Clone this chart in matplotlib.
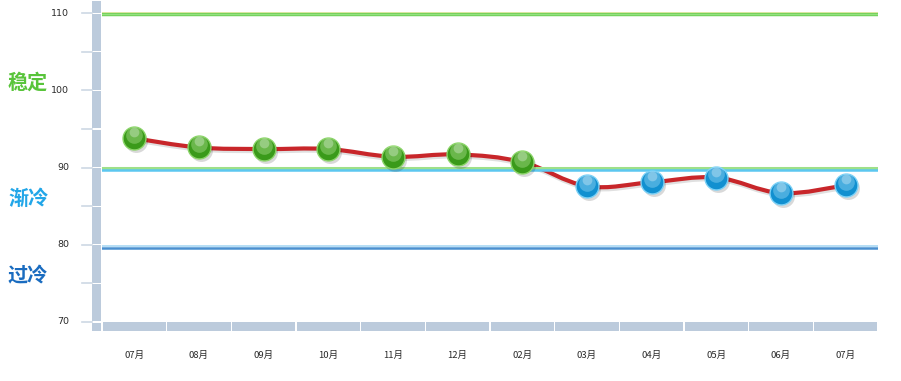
"""Monthly index line chart with status bands (稳定 / 渐冷 / 过冷)."""

import numpy as np
import matplotlib
matplotlib.use("Agg")
import matplotlib.pyplot as plt
from matplotlib.path import Path
from matplotlib.patches import PathPatch, Rectangle
from matplotlib.transforms import blended_transform_factory, offset_copy

plt.rcParams["font.family"] = ["Noto Sans CJK SC", "DejaVu Sans"]

# data
months = ["07月", "08月", "09月", "10月", "11月", "12月",
          "02月", "03月", "04月", "05月", "06月", "07月"]
values = [93.8, 92.6, 92.4, 92.4, 91.4, 91.7, 90.7, 87.6, 88.1, 88.7, 86.7, 87.7]
yticks = [70, 80, 90, 100, 110]
zones = ["稳定", "渐冷", "过冷"]
zone_y = [101.0, 86.0, 76.0]
threshold = 90

W, H = 901, 381
fig = plt.figure(figsize=(W / 100, H / 100), dpi=100)
ax = fig.add_axes([102 / W, (H - 322) / H, 776 / W, 322 / H])
n = len(months)
x = np.arange(n)
ax.set_xlim(-0.5, n - 0.5)
ax.set_ylim(70, 111.7)
ax.axis("off")

band = "#bccbdc"
fig_y = blended_transform_factory(fig.transFigure, ax.transData)
px = 1 / 7.72  # one pixel in data units

# y-axis band, split every 5 units
edges = list(range(70, 111, 5)) + [111.7]
for lo, hi in zip(edges[:-1], edges[1:]):
    ax.add_patch(Rectangle((92 / W, lo + px * 0.6), 9 / W, hi - lo - px * 1.2,
                           transform=fig_y, color=band, clip_on=False, lw=0))
ax.add_patch(Rectangle((92 / W, 70 - 9 * px), 9 / W, 9 * px - px * 0.6,
                       transform=fig_y, color=band, clip_on=False, lw=0))
for v in range(70, 111, 5):
    ax.plot([82 / W, 92 / W], [v, v], transform=fig_y, color="#cdd8e4",
            lw=1.2, clip_on=False)
for v in yticks:
    ax.text(69 / W, v, str(v), transform=fig_y, ha="right", va="center",
            fontsize=6.8, color="#2a2a2a", family="DejaVu Sans")

# x-axis band split per category
for i in range(n):
    ax.add_patch(Rectangle((i - 0.5 + 0.012, 70 - 9 * px), 0.976, 9 * px,
                           color=band, clip_on=False, lw=0))
    ax.text(i, 70 - 33 * px, months[i], ha="center", va="center",
            fontsize=6.8, color="#2a2a2a")

# reference lines
ax.axhline(110 + 0.6 * px, color="#fbe7a8", lw=1.2)
ax.axhline(110 - 1.2 * px, color="#74d35c", lw=2.5)
ax.axhline(110 - 0.7 * px, color="#a5e690", lw=0.8, alpha=0.7)
ax.axhline(90 - 0.5 * px, color="#9ee08a", lw=2.2)
ax.axhline(90 - 2.8 * px, color="#5cc7f0", lw=1.8)
ax.axhline(80 - 1.6 * px, color="#a8d8f4", lw=1.2)
ax.axhline(80 - 2.8 * px, color="#4a90d0", lw=1.8)

# zone labels
zone_colors = ["#58c43a", "#22a6e8", "#1a6cc0"]
for name, yy, c in zip(zones, zone_y, zone_colors):
    ax.text(8 / W, yy, name, transform=fig_y, ha="left", va="center",
            fontsize=14.5, fontweight="bold", color=c)

# smooth curve as Bezier path through the points
pts = np.column_stack([x, values])
verts = [tuple(pts[0])]
codes = [Path.MOVETO]
t = 0.18
for i in range(n - 1):
    p0 = pts[max(i - 1, 0)]
    p1 = pts[i]
    p2 = pts[i + 1]
    p3 = pts[min(i + 2, n - 1)]
    c1 = p1 + (p2 - p0) * t
    c2 = p2 - (p3 - p1) * t
    verts += [tuple(c1), tuple(c2), tuple(p2)]
    codes += [Path.CURVE4] * 3
path = Path(verts, codes)
shadow_tr = offset_copy(ax.transData, fig=fig, x=1, y=-2, units="dots")
ax.add_patch(PathPatch(path, fill=False, lw=3.2, ec="#000000", alpha=0.12,
                       transform=shadow_tr, capstyle="round"))
ax.add_patch(PathPatch(path, fill=False, lw=3.0, ec="#c8262a",
                       capstyle="round", joinstyle="round"))

# glossy markers
sh = offset_copy(ax.transData, fig=fig, x=2, y=-3, units="dots")
up = offset_copy(ax.transData, fig=fig, x=0, y=3.5, units="dots")
up2 = offset_copy(ax.transData, fig=fig, x=0, y=6, units="dots")
for xi, v in zip(x, values):
    if v >= threshold:
        base, edge, hi = "#3a9a1a", "#8ad468", "#c4f0a8"
    else:
        base, edge, hi = "#1290d0", "#7ad0f6", "#b4e8fc"
    ax.plot(xi, v, "o", ms=16.5, mfc="#000000", mec="none", alpha=0.15,
            transform=sh, zorder=4)
    ax.plot(xi, v, "o", ms=16.5, mfc=base, mec=edge, mew=1.0, zorder=5)
    ax.plot(xi, v, "o", ms=12, mfc=hi, mec="none", alpha=0.35,
            transform=up, zorder=6)
    ax.plot(xi, v, "o", ms=7, mfc="white", mec="none", alpha=0.3,
            transform=up2, zorder=7)

fig.savefig("out.png", dpi=100)
